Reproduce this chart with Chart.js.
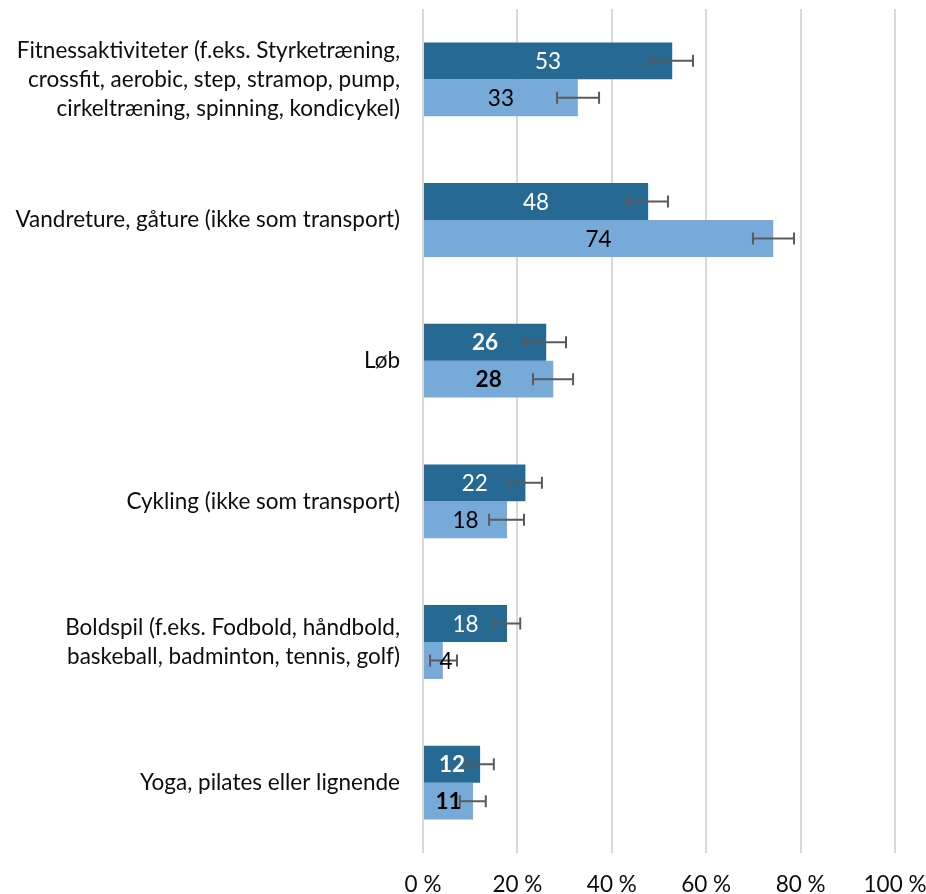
<!DOCTYPE html>
<html>
<head>
<meta charset="utf-8">
<script src="https://cdn.jsdelivr.net/npm/chart.js@4/dist/chart.umd.min.js"></script>
<style>
  html, body { margin: 0; padding: 0; background: #fff; }
  #wrap { width: 926px; height: 894px; }
</style>
</head>
<body>
<div id="wrap"><canvas id="chart"></canvas></div>
<script>
// Kategorier (y-aksen)
const kategorier = [
  ["Fitnessaktiviteter (f.eks. Styrketræning,", "crossfit, aerobic, step, stramop, pump,", "cirkeltræning, spinning, kondicykel)"],
  "Vandreture, gåture (ikke som transport)",
  "Løb",
  "Cykling (ikke som transport)",
  ["Boldspil (f.eks. Fodbold, håndbold,", "baskeball, badminton, tennis, golf)"],
  "Yoga, pilates eller lignende"
];

// Serie 1 (mørkeblå) og serie 2 (lyseblå), i procent
const serie1 = [52.8, 47.7, 26.1, 21.7, 17.8, 12.1];
const serie2 = [32.8, 74.2, 27.6, 17.8, 4.2, 10.6];

// Fejlmargin (nedre, øvre)
const fejl1Lav = [48.3, 43.4, 21.6, 18.0, 14.8, 9.1];
const fejl1Hoj = [57.2, 51.9, 30.3, 25.2, 20.6, 15.0];
const fejl2Lav = [28.4, 69.9, 23.3, 14.0, 1.5, 7.8];
const fejl2Hoj = [37.3, 78.6, 31.8, 21.4, 7.2, 13.3];

// Kategorier med fed skrift i etiketter
const fed = [false, false, true, false, false, true];

// x-aksens ticks
const xTicks = [0, 20, 40, 60, 80, 100];

const fontFamily = "Lato, 'Open Sans', sans-serif";
const fontSize = 22.5;

// Plugin: fejlstreger
const fejlPlugin = {
  id: "fejl",
  afterDatasetsDraw(chart) {
    const ctx = chart.ctx;
    const x = chart.scales.x;
    const sets = [[fejl1Lav, fejl1Hoj], [fejl2Lav, fejl2Hoj]];
    ctx.save();
    ctx.strokeStyle = "#5a5a5a";
    ctx.lineWidth = 2;
    sets.forEach((s, d) => {
      const meta = chart.getDatasetMeta(d);
      meta.data.forEach((bar, i) => {
        const x1 = x.getPixelForValue(s[0][i]);
        const x2 = x.getPixelForValue(s[1][i]);
        const y = bar.y;
        ctx.beginPath();
        ctx.moveTo(x1, y); ctx.lineTo(x2, y);
        ctx.moveTo(x1, y - 6); ctx.lineTo(x1, y + 6);
        ctx.moveTo(x2, y - 6); ctx.lineTo(x2, y + 6);
        ctx.stroke();
      });
    });
    ctx.restore();
  }
};

// Plugin: dataetiketter midt i søjlerne + kategorinavne
const etiketPlugin = {
  id: "etiketter",
  afterDraw(chart) {
    const ctx = chart.ctx;
    const y = chart.scales.y;
    ctx.save();
    ctx.textBaseline = "middle";

    // kategorinavne, højrestillet
    ctx.textAlign = "right";
    ctx.fillStyle = "#0d0d0d";
    ctx.font = fontSize + "px " + fontFamily;
    kategorier.forEach((lab, i) => {
      const linjer = Array.isArray(lab) ? lab : [lab];
      const cy = y.getPixelForValue(i);
      const lh = 29;
      linjer.forEach((t, k) => {
        ctx.fillText(t, 400, cy + (k - (linjer.length - 1) / 2) * lh);
      });
    });

    ctx.textAlign = "center";
    chart.data.datasets.forEach((ds, d) => {
      const meta = chart.getDatasetMeta(d);
      meta.data.forEach((bar, i) => {
        ctx.font = (fed[i] ? "bold " : "") + fontSize + "px " + fontFamily;
        ctx.fillStyle = d === 0 ? "#ffffff" : "#000000";
        let cx = (bar.x + bar.base) / 2;
        if (bar.x - bar.base < 30) cx = bar.base + 22;
        ctx.fillText(Math.round(ds.data[i]), cx, bar.y + 1);
      });
    });
    ctx.restore();
  }
};

new Chart(document.getElementById("chart"), {
  type: "bar",
  data: {
    labels: kategorier,
    datasets: [
      { label: "Serie 1", data: serie1, backgroundColor: "#266a93" },
      { label: "Serie 2", data: serie2, backgroundColor: "#77aad8" }
    ]
  },
  options: {
    indexAxis: "y",
    responsive: true,
    maintainAspectRatio: false,
    animation: false,
    categoryPercentage: 0.525,
    barPercentage: 1,
    layout: { padding: { top: 9, right: 31, bottom: 0, left: 0 } },
    plugins: {
      legend: { display: false },
      tooltip: { enabled: false }
    },
    scales: {
      x: {
        min: 0,
        max: 100,
        afterBuildTicks(scale) { scale.ticks = xTicks.map(v => ({ value: v })); },
        afterFit(scale) { scale.height = 41; scale.paddingLeft = 0; scale.paddingRight = 0; },
        grid: { color: "#d9d9d9", lineWidth: 2, drawTicks: false },
        border: { display: false },
        ticks: {
          color: "#0d0d0d",
          font: { family: fontFamily, size: fontSize },
          padding: 18,
          maxRotation: 0,
          callback: v => v + " %"
        }
      },
      y: {
        afterFit(scale) { scale.width = 423; scale.paddingTop = 0; scale.paddingBottom = 0; },
        grid: { display: false },
        border: { display: false },
        ticks: { display: false }
      }
    }
  },
  plugins: [fejlPlugin, etiketPlugin]
});
</script>
</body>
</html>
